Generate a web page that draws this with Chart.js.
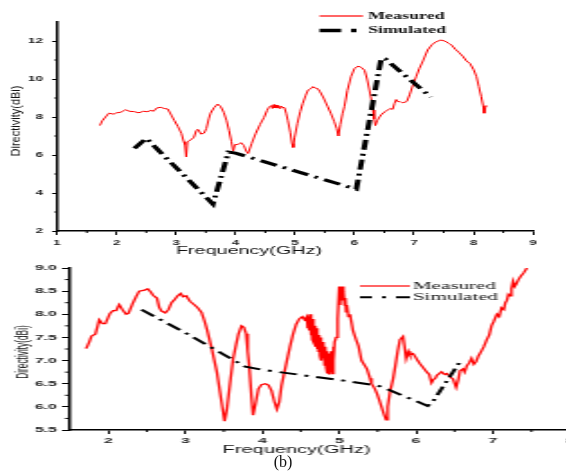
<!DOCTYPE html>
<html>
<head>
<meta charset="utf-8">
<script src="https://cdn.jsdelivr.net/npm/chart.js@4"></script>
<style>
  html, body { margin: 0; padding: 0; background: #fff; }
  body { width: 566px; height: 472px; position: relative; overflow: hidden; }
  .panel { position: absolute; left: 0; width: 566px; overflow: hidden; }
  .panel canvas { transform-origin: 0 0; }
  #caption { position: absolute; left: 263px; top: 454px; width: 40px; text-align: center;
    font: 16px "Liberation Serif", serif; color: #111; line-height: 16px; }
</style>
</head>
<body>
<div class="panel" style="top:0;height:260px"><canvas id="topChart" width="315" height="260" style="transform:scaleX(1.8)"></canvas></div>
<div class="panel" style="top:255px;height:217px"><canvas id="bottomChart" width="300" height="217" style="transform:scaleX(2)"></canvas></div>
<div id="caption">(b)</div>
<script>
// ---- panel (a): directivity, measured vs simulated ----
const topMeasuredFreq = [1.72, 1.76, 1.80, 1.87, 1.95, 2.00, 2.07, 2.15, 2.22, 2.30, 2.37, 2.45, 2.52, 2.58, 2.62, 2.68, 2.74, 2.80, 2.86, 2.92,
  2.97, 3.03, 3.09, 3.13, 3.15, 3.17, 3.19, 3.25, 3.30, 3.34, 3.37, 3.42, 3.47, 3.51, 3.55, 3.58, 3.64, 3.70, 3.75, 3.80,
  3.85, 3.89, 3.93, 3.96, 3.99, 4.04, 4.09, 4.14, 4.18, 4.21, 4.27, 4.34, 4.41, 4.48, 4.53, 4.56, 4.60, 4.62, 4.64, 4.66,
  4.68, 4.70, 4.72, 4.74, 4.76, 4.79, 4.82, 4.85, 4.88, 4.92, 4.95, 4.97, 4.99, 5.04, 5.09, 5.13, 5.18, 5.22, 5.27, 5.30,
  5.34, 5.38, 5.42, 5.48, 5.55, 5.60, 5.66, 5.70, 5.73, 5.76, 5.80, 5.83, 5.88, 5.94, 6.00, 6.06, 6.12, 6.17, 6.21, 6.25,
  6.29, 6.31, 6.33, 6.35, 6.38, 6.42, 6.46, 6.52, 6.56, 6.60, 6.64, 6.67, 6.70, 6.73, 6.76, 6.80, 6.85, 6.88, 6.93, 6.98,
  7.04, 7.09, 7.15, 7.23, 7.30, 7.37, 7.45, 7.52, 7.58, 7.63, 7.70, 7.76, 7.82, 7.88, 7.94, 8.00, 8.05, 8.09, 8.13, 8.16,
  8.18, 8.20, 8.22];
const topMeasuredDir = [7.55, 7.80, 7.95, 8.20, 8.15, 8.22, 8.25, 8.38, 8.30, 8.28, 8.22, 8.30, 8.28, 8.35, 8.30, 8.48, 8.51, 8.45, 8.42, 8.10,
  7.82, 7.50, 7.14, 6.70, 6.55, 5.90, 6.70, 6.80, 6.93, 7.30, 7.35, 7.10, 7.15, 7.40, 7.90, 8.20, 8.50, 8.68, 8.55, 8.25,
  7.80, 7.30, 6.70, 6.20, 6.55, 6.55, 6.65, 6.50, 6.20, 6.08, 6.60, 7.14, 7.60, 7.98, 8.35, 8.51, 8.60, 8.45, 8.65, 8.48,
  8.63, 8.47, 8.60, 8.45, 8.58, 8.50, 8.50, 8.20, 7.80, 7.20, 6.60, 6.40, 6.90, 7.67, 8.30, 8.72, 9.15, 9.42, 9.50, 9.60,
  9.52, 9.50, 9.33, 9.00, 8.54, 8.20, 7.75, 7.40, 7.00, 7.60, 8.20, 8.54, 9.40, 10.12, 10.55, 10.68, 10.60, 10.45, 10.00, 9.42,
  8.80, 8.37, 7.90, 7.55, 7.80, 8.00, 8.15, 8.30, 8.37, 8.45, 8.40, 8.70, 8.92, 8.80, 8.82, 8.75, 8.78, 8.82, 9.20, 9.68,
  10.15, 10.56, 10.95, 11.53, 11.80, 11.96, 12.05, 12.00, 11.88, 11.79, 11.55, 11.38, 11.20, 10.95, 10.82, 10.50, 10.12, 9.60, 9.07, 8.60,
  8.20, 8.50, 8.60];
const topSimFreq = [2.30, 2.50, 3.62, 3.88, 4.00, 6.03, 6.45, 6.52, 7.28];
const topSimDir = [6.35, 6.88, 3.42, 6.15, 6.10, 4.20, 11.10, 11.05, 9.05];
const topTicksX = [1, 2, 3, 4, 5, 6, 7, 8, 9];
const topTicksY = [2, 4, 6, 8, 10, 12];
const topMinorX = [1.5, 2.5, 3.5, 4.5, 5.5, 6.5, 7.5, 8.5];
const topMinorY = [3, 5, 7, 9, 11];

// ---- panel (b) ----
const botMeasuredFreq = [
  1.71, 1.75, 1.78, 1.83, 1.86, 1.88, 1.92, 1.96, 2.02, 2.06,
  2.10, 2.14, 2.19, 2.23, 2.26, 2.32, 2.36, 2.40, 2.47, 2.51,
  2.55, 2.58, 2.63, 2.66, 2.69, 2.74, 2.78, 2.82, 2.85, 2.90,
  2.94, 2.97, 3.01, 3.06, 3.12, 3.16, 3.21, 3.25, 3.28, 3.34,
  3.41, 3.47, 3.51, 3.54, 3.58, 3.62, 3.66, 3.69, 3.73, 3.76,
  3.79, 3.81, 3.83, 3.86, 3.88, 3.91, 3.95, 3.99, 4.04, 4.08,
  4.12, 4.16, 4.19, 4.22, 4.25, 4.32, 4.36, 4.40, 4.44, 4.48,
  4.52, 4.55, 4.58, 4.59, 4.60, 4.61, 4.62, 4.63, 4.64, 4.65,
  4.66, 4.67, 4.68, 4.69, 4.70, 4.71, 4.72, 4.73, 4.74, 4.75,
  4.76, 4.77, 4.78, 4.79, 4.80, 4.81, 4.82, 4.83, 4.84, 4.85,
  4.86, 4.87, 4.88, 4.89, 4.90, 4.91, 4.92, 4.93, 4.94, 4.96,
  4.98, 5.00, 5.01, 5.02, 5.03, 5.04, 5.05, 5.06, 5.07, 5.08,
  5.09, 5.10, 5.12, 5.14, 5.18, 5.22, 5.25, 5.29, 5.33, 5.36,
  5.40, 5.42, 5.46, 5.49, 5.52, 5.55, 5.58, 5.61, 5.63, 5.66,
  5.70, 5.73, 5.76, 5.79, 5.83, 5.85, 5.87, 5.90, 5.92, 5.96,
  5.99, 6.02, 6.05, 6.09, 6.14, 6.17, 6.20, 6.22, 6.25, 6.27,
  6.30, 6.33, 6.37, 6.40, 6.44, 6.48, 6.52, 6.55, 6.57, 6.61,
  6.63, 6.66, 6.69, 6.72, 6.75, 6.78, 6.81, 6.85, 6.88, 6.92,
  6.95, 6.98, 7.01, 7.05, 7.08, 7.11, 7.14, 7.16, 7.18, 7.20,
  7.22, 7.24, 7.26, 7.28, 7.30, 7.33, 7.36, 7.40, 7.44];
const botMeasuredDir = [
  7.26, 7.40, 7.53, 7.57, 7.75, 7.88, 7.80, 7.80, 8.02, 8.08,
  8.08, 8.21, 8.08, 8.00, 8.02, 8.25, 8.38, 8.50, 8.52, 8.55,
  8.48, 8.41, 8.35, 8.15, 8.07, 8.03, 8.10, 8.25, 8.30, 8.40,
  8.45, 8.38, 8.40, 8.28, 8.20, 8.14, 8.04, 7.85, 7.68, 7.28,
  6.75, 6.11, 5.69, 5.95, 6.50, 7.03, 7.35, 7.57, 7.75, 7.72,
  7.58, 7.20, 6.89, 6.20, 5.82, 6.05, 6.39, 6.48, 6.50, 6.47,
  6.35, 6.10, 5.95, 6.10, 6.46, 7.00, 7.30, 7.57, 7.78, 7.90,
  7.95, 7.88, 7.95, 7.70, 7.90, 7.65, 8.00, 7.55, 7.85, 7.45,
  7.90, 7.40, 7.75, 7.30, 7.70, 7.25, 7.60, 7.20, 7.55, 7.10,
  7.50, 7.00, 7.40, 7.05, 7.35, 6.90, 7.30, 6.85, 7.20, 6.72,
  7.15, 6.70, 7.10, 6.75, 7.20, 6.72, 7.30, 7.00, 7.40, 7.50,
  7.90, 8.60, 8.20, 8.55, 8.30, 8.60, 8.35, 8.50, 8.20, 8.35,
  8.05, 8.20, 7.95, 8.00, 7.64, 7.45, 7.32, 7.00, 6.90, 6.82,
  6.62, 6.50, 6.40, 6.29, 6.15, 6.00, 5.85, 5.72, 6.00, 6.32,
  6.60, 6.89, 7.20, 7.45, 7.52, 7.30, 7.04, 7.20, 7.12, 7.15,
  7.08, 7.00, 6.93, 6.85, 6.75, 6.70, 6.52, 6.58, 6.62, 6.68,
  6.72, 6.76, 6.70, 6.72, 6.65, 6.60, 6.42, 6.60, 6.78, 6.82,
  6.75, 6.89, 6.95, 7.05, 6.92, 6.98, 7.10, 7.21, 7.30, 7.46,
  7.55, 7.75, 7.85, 8.00, 7.95, 8.14, 8.10, 8.25, 8.30, 8.43,
  8.40, 8.55, 8.71, 8.60, 8.65, 8.75, 8.82, 8.90, 9.00];
const botSimFreq = [2.43, 3.00, 3.50, 3.78, 4.00, 5.00, 5.50, 5.60, 6.15, 6.22, 6.56];
const botSimDir = [8.10, 7.60, 7.13, 6.87, 6.80, 6.58, 6.46, 6.40, 6.02, 6.12, 6.95];
const botTicksX = [2, 3, 4, 5, 6, 7, 8];
const botTicksY = [5.5, 6.0, 6.5, 7.0, 7.5, 8.0, 8.5, 9.0];
const botMinorX = [2.5, 3.5, 4.5, 5.5, 6.5, 7.5];
const botMinorY = [5.75, 6.25, 6.75, 7.25, 7.75, 8.25, 8.75];

const seriesLabels = ["Measured", "Simulated"];

function zip(xs, ys) {
  return xs.map((x, i) => ({ x: x, y: ys[i] }));
}

// minor ticks, axis titles and the in-plot legend
const extras = {
  id: "extras",
  afterDraw(chart, args, o) {
    const ctx = chart.ctx;
    const area = chart.chartArea;
    const xs = chart.scales.x;
    const ys = chart.scales.y;
    ctx.save();
    ctx.strokeStyle = "#000";
    ctx.lineWidth = 1;
    ctx.beginPath();
    o.minorX.forEach((v) => {
      const p = xs.getPixelForValue(v);
      ctx.moveTo(p, area.bottom);
      ctx.lineTo(p, area.bottom + o.minorLenX);
    });
    o.minorY.forEach((v) => {
      const p = ys.getPixelForValue(v);
      ctx.moveTo(area.left, p);
      ctx.lineTo(area.left - o.minorLenY, p);
    });
    ctx.stroke();

    ctx.fillStyle = "#111";
    ctx.textBaseline = "middle";
    ctx.textAlign = "center";
    ctx.font = o.xTitle.font;
    ctx.fillText(o.xTitle.text, o.xTitle.x, o.xTitle.y);

    ctx.save();
    ctx.translate(o.yTitle.x, o.yTitle.y);
    ctx.rotate(-Math.PI / 2);
    ctx.scale(1, o.yTitle.squash);
    ctx.font = o.yTitle.font;
    ctx.fillText(o.yTitle.text, 0, 0);
    ctx.restore();

    ctx.textAlign = "left";
    ctx.font = o.legend.font;
    o.legend.items.forEach((it, i) => {
      ctx.strokeStyle = it.color;
      ctx.lineWidth = it.width;
      ctx.setLineDash(it.dash);
      ctx.beginPath();
      ctx.moveTo(o.legend.x0, it.y);
      ctx.lineTo(o.legend.x1, it.y);
      ctx.stroke();
      ctx.setLineDash([]);
      ctx.fillStyle = "#111";
      ctx.fillText(seriesLabels[i], o.legend.textX, it.y);
    });
    ctx.restore();
  },
};

function axis(min, max, ticks, fixSize, horizontal, tickLen, pad, fmt) {
  return {
    type: "linear",
    min: min,
    max: max,
    afterBuildTicks: (s) => {
      s.ticks = ticks.map((v) => ({ value: v }));
    },
    afterFit: (s) => {
      if (horizontal) s.height = fixSize;
      else s.width = fixSize;
    },
    border: { display: true, color: "#000", width: 1.5 },
    grid: { drawOnChartArea: false, drawTicks: true, tickLength: tickLen, tickColor: "#000", tickWidth: 1 },
    ticks: {
      font: { family: "Liberation Sans", weight: "bold", size: fmt.size },
      color: "#222",
      padding: pad,
      maxRotation: 0,
      autoSkip: false,
      callback: fmt.cb,
    },
  };
}

new Chart(document.getElementById("topChart"), {
  type: "line",
  data: {
    datasets: [
      { label: seriesLabels[0], data: zip(topMeasuredFreq, topMeasuredDir), borderColor: "#ff0000", borderWidth: 1, pointRadius: 0, tension: 0, order: 1 },
      { label: seriesLabels[1], data: zip(topSimFreq, topSimDir), borderColor: "#000", borderWidth: 3, borderDash: [10, 4, 2, 4], pointRadius: 0, tension: 0, order: 0 },
    ],
  },
  options: {
    responsive: false,
    animation: false,
    layout: { padding: { left: 0, right: 18.9, top: 22, bottom: 0 } },
    scales: {
      x: axis(1, 9, topTicksX, 29, true, 4, 3, { size: 7.5, cb: (v) => v }),
      y: axis(2, 13, topTicksY, 31.7, false, 2.8, 5, { size: 7.5, cb: (v) => v }),
    },
    plugins: {
      legend: { display: false },
      tooltip: { enabled: false },
      extras: {
        minorX: topMinorX, minorY: topMinorY, minorLenX: 2, minorLenY: 1.5,
        xTitle: { text: "Frequency(GHz)", x: 138.3, y: 251, font: "11px 'Liberation Sans'" },
        yTitle: { text: "Directivity(dBi)", x: 8.9, y: 121, font: "11px 'Liberation Sans'", squash: 0.62 },
        legend: {
          font: "bold 10px 'Liberation Serif'", x0: 177.5, x1: 201.7, textX: 204.4,
          items: [
            { y: 16, color: "#ff0000", width: 1.2, dash: [] },
            { y: 30.5, color: "#000", width: 3.5, dash: [12, 5.5, 3, 20] },
          ],
        },
      },
    },
  },
  plugins: [extras],
});

new Chart(document.getElementById("bottomChart"), {
  type: "line",
  data: {
    datasets: [
      { label: seriesLabels[0], data: zip(botMeasuredFreq, botMeasuredDir), borderColor: "#ff0000", borderWidth: 1.3, pointRadius: 0, tension: 0, order: 1 },
      { label: seriesLabels[1], data: zip(botSimFreq, botSimDir), borderColor: "#000", borderWidth: 2, borderDash: [9, 4, 2, 4], pointRadius: 0, tension: 0, order: 0 },
    ],
  },
  options: {
    responsive: false,
    animation: false,
    layout: { padding: { left: 0, right: 15, top: 13, bottom: 0 } },
    scales: {
      x: axis(1.5, 8, botTicksX, 42, true, 4, 2, { size: 8, cb: (v) => v }),
      y: axis(5.5, 9, botTicksY, 35, false, 4, 2.5, { size: 8, cb: (v) => v.toFixed(1) }),
    },
    plugins: {
      legend: { display: false },
      tooltip: { enabled: false },
      extras: {
        minorX: botMinorX, minorY: botMinorY, minorLenX: 2, minorLenY: 2.5,
        xTitle: { text: "Frequency(GHz)", x: 148.3, y: 195, font: "10px 'Liberation Sans'" },
        yTitle: { text: "Directivity(dBi)", x: 11.7, y: 97, font: "8.3px 'Liberation Sans'", squash: 1 },
        legend: {
          font: "10.5px 'Liberation Serif'", x0: 180, x1: 205, textX: 206.5,
          items: [
            { y: 31, color: "#ff0000", width: 1.2, dash: [] },
            { y: 42.3, color: "#000", width: 2, dash: [6, 5, 2, 5, 7, 10] },
          ],
        },
      },
    },
  },
  plugins: [extras],
});
</script>
</body>
</html>
